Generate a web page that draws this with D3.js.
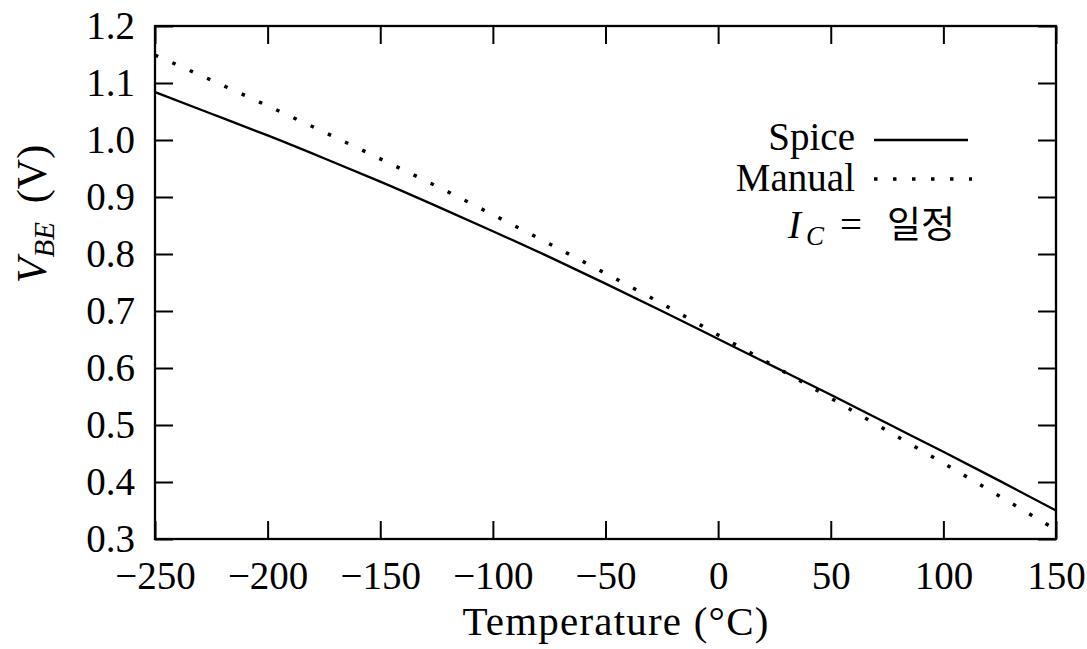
<!DOCTYPE html>
<html>
<head>
<meta charset="utf-8">
<script src="https://cdn.jsdelivr.net/npm/d3@7"></script>
<style>
  body { margin: 0; background: #fff; }
  svg { display: block; }
</style>
</head>
<body>
<div id="chart"></div>
<script>
// temperature samples (°C) and V_BE readings (V)
const temps  = [-250, -225, -200, -175, -150, -125, -100, -75, -50, -25, 0, 25, 50, 75, 100, 125, 150];
const spice  = [1.084, 1.046, 1.008, 0.968, 0.927, 0.884, 0.840, 0.795, 0.748, 0.700, 0.651, 0.602, 0.553, 0.503, 0.453, 0.402, 0.350];
const manual = [1.149, 1.105, 1.060, 1.014, 0.967, 0.919, 0.869, 0.818, 0.766, 0.713, 0.658, 0.603, 0.547, 0.490, 0.433, 0.375, 0.316];

const xTicks = [-250, -200, -150, -100, -50, 0, 50, 100, 150];
const yTicks = [0.3, 0.4, 0.5, 0.6, 0.7, 0.8, 0.9, 1.0, 1.1, 1.2];

const width = 1087, height = 649;
const margin = { top: 26, right: 31, bottom: 110, left: 155 };
const innerW = width - margin.left - margin.right;
const innerH = height - margin.top - margin.bottom;

const serif = "'Liberation Serif', 'Times New Roman', serif";
const fontSize = 39;

const svg = d3.select("#chart")
  .append("svg")
  .attr("width", width)
  .attr("height", height)
  .style("font-family", serif);

const g = svg.append("g")
  .attr("transform", `translate(${margin.left},${margin.top})`);

const x = d3.scaleLinear().domain([-250, 150]).range([0, innerW]);
const y = d3.scaleLinear().domain([0.3, 1.2]).range([innerH, 0]);

const fmtX = d => (d < 0 ? "\u2212" + Math.abs(d) : String(d));

function styleAxis(sel) {
  sel.select(".domain").remove();
  sel.selectAll(".tick line").attr("stroke", "#000").attr("stroke-width", 2);
  sel.selectAll(".tick text")
    .attr("fill", "#000")
    .style("font-family", serif)
    .style("font-size", fontSize + "px");
}

// bottom + left with labels, top + right mirrored, all ticks inward
g.append("g")
  .attr("transform", `translate(0,${innerH})`)
  .call(d3.axisBottom(x).tickValues(xTicks).tickSize(-18).tickPadding(22).tickFormat(fmtX))
  .call(styleAxis);

g.append("g")
  .call(d3.axisTop(x).tickValues(xTicks).tickSize(-18).tickFormat(""))
  .call(styleAxis);

g.append("g")
  .call(d3.axisLeft(y).tickValues(yTicks).tickSize(-18).tickPadding(20).tickFormat(d3.format(".1f")))
  .call(styleAxis);

g.append("g")
  .attr("transform", `translate(${innerW},0)`)
  .call(d3.axisRight(y).tickValues(yTicks).tickSize(-18).tickFormat(""))
  .call(styleAxis);

g.append("defs").append("clipPath")
  .attr("id", "plot-clip")
  .append("rect")
  .attr("width", innerW)
  .attr("height", innerH);

const line = d3.line()
  .x(d => x(d[0]))
  .y(d => y(d[1]))
  .curve(d3.curveNatural);

const plot = g.append("g").attr("clip-path", "url(#plot-clip)");

plot.append("path")
  .datum(temps.map((t, i) => [t, spice[i]]))
  .attr("fill", "none")
  .attr("stroke", "#000")
  .attr("stroke-width", 2.3)
  .attr("d", line);

plot.append("path")
  .datum(temps.map((t, i) => [t, manual[i]]))
  .attr("fill", "none")
  .attr("stroke", "#000")
  .attr("stroke-width", 3.5)
  .attr("stroke-dasharray", "3.5 15.5")
  .attr("d", line);

// frame
g.append("rect")
  .attr("width", innerW)
  .attr("height", innerH)
  .attr("fill", "none")
  .attr("stroke", "#000")
  .attr("stroke-width", 2.3);

// legend
const legend = svg.append("g").style("font-size", fontSize + "px");

legend.append("text")
  .attr("x", 855).attr("y", 150)
  .attr("text-anchor", "end")
  .text("Spice");
legend.append("line")
  .attr("x1", 874).attr("x2", 968)
  .attr("y1", 140).attr("y2", 140)
  .attr("stroke", "#000").attr("stroke-width", 2.3);

legend.append("text")
  .attr("x", 855).attr("y", 191)
  .attr("text-anchor", "end")
  .text("Manual");
legend.append("line")
  .attr("x1", 874).attr("x2", 972)
  .attr("y1", 179).attr("y2", 179)
  .attr("stroke", "#000").attr("stroke-width", 3.5)
  .attr("stroke-dasharray", "3.5 15.5");

const note = legend.append("text").attr("y", 238);
note.append("tspan").attr("x", 788).style("font-style", "italic").text("I");
note.append("tspan").attr("x", 806).attr("dy", 7).style("font-style", "italic")
  .style("font-size", "27px").text("C");
note.append("tspan").attr("x", 840).attr("dy", -7).text("=");
note.append("tspan").attr("x", 887)
  .style("font-family", "'Noto Sans CJK KR', sans-serif")
  .style("font-size", "37px")
  .text("일정");

// axis titles
svg.append("text")
  .attr("x", 616)
  .attr("y", 635)
  .attr("text-anchor", "middle")
  .style("font-size", "41px")
  .style("letter-spacing", "1.2px")
  .text("Temperature (°C)");

const yTitle = svg.append("text")
  .attr("transform", "translate(46,214) rotate(-90)")
  .attr("text-anchor", "middle")
  .style("font-size", "42px");
yTitle.append("tspan").style("font-style", "italic").text("V");
yTitle.append("tspan").attr("dy", 8).style("font-style", "italic")
  .style("font-size", "29px").text("BE");
yTitle.append("tspan").attr("dy", -8).text("\u2009 (V)");
</script>
</body>
</html>
